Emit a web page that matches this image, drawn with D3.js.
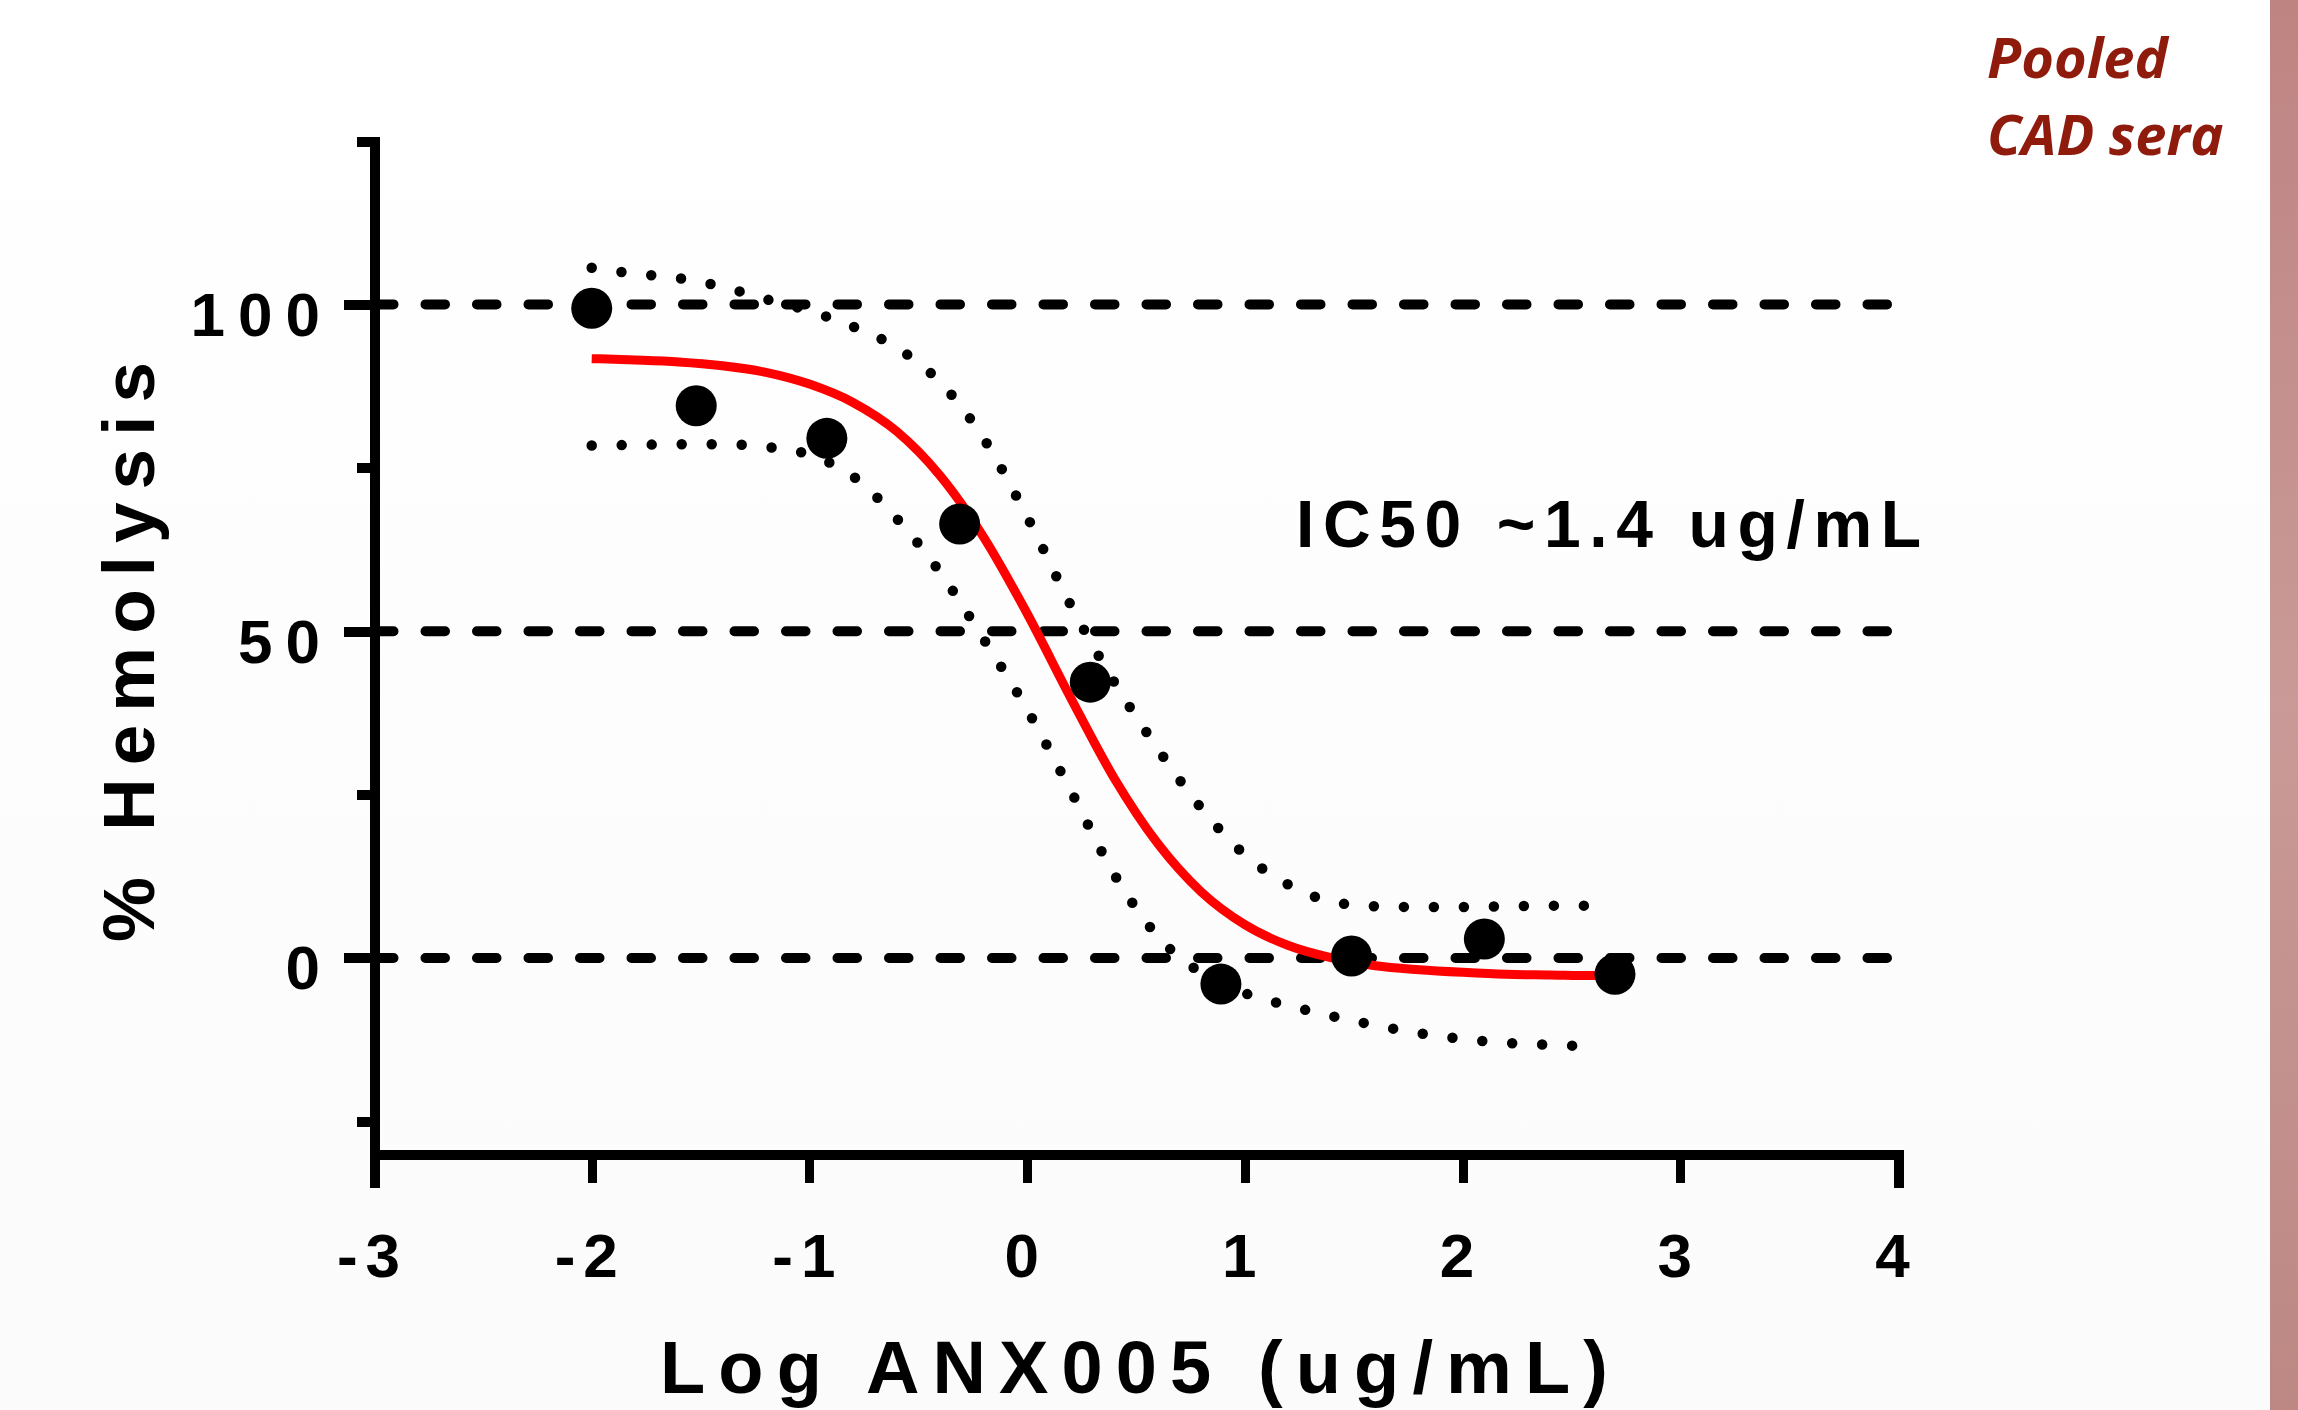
<!DOCTYPE html>
<html>
<head>
<meta charset="utf-8">
<script src="https://cdn.jsdelivr.net/npm/d3@7"></script>
<style>
	body { margin: 0; background: #ffffff; }
	svg { display: block; }
	text { font-family: "Liberation Sans", Arial, sans-serif; font-weight: bold; }
</style>
</head>
<body>
<script>

// measured points: log dose vs % hemolysis
var doseLog = [-2, -1.52, -0.92, -0.31, 0.29, 0.89, 1.49, 2.10, 2.70];
var hemolysis = [99.4, 84.5, 79.5, 66.4, 42.2, -4.0, 0.3, 2.9, -2.5];

// fitted curve
var curveX = [-2.0, -1.8, -1.6, -1.4, -1.2, -1.0, -0.8, -0.6, -0.4, -0.2, 0.0, 0.2, 0.4, 0.6, 0.8, 1.0, 1.2, 1.4, 1.6, 1.8, 2.0, 2.2, 2.4, 2.6, 2.7];
var curveY = [91.7, 91.5, 91.2, 90.6, 89.6, 87.8, 85.0, 80.6, 73.8, 64.4, 52.7, 39.8, 27.5, 17.5, 10.1, 5.1, 1.9, 0.0, -1.2, -1.8, -2.2, -2.5, -2.6, -2.7, -2.7];

// confidence band, upper and lower
var upperX = [-2.0, -1.8, -1.6, -1.4, -1.2, -1.0, -0.8, -0.6, -0.4, -0.2, 0.0, 0.2, 0.4, 0.6, 0.8, 1.0, 1.2, 1.4, 1.6, 1.8, 2.0, 2.2, 2.4, 2.62];
var upperY = [105.6, 104.7, 104.0, 102.7, 100.8, 99.0, 96.6, 93.4, 88.1, 79.5, 67.5, 54.0, 42.2, 32.0, 22.9, 15.8, 11.2, 8.6, 7.9, 7.8, 7.8, 7.9, 8.0, 8.0];
var lowerX = [-2.0, -1.8, -1.6, -1.4, -1.2, -1.0, -0.8, -0.6, -0.4, -0.2, 0.0, 0.2, 0.4, 0.6, 0.8, 1.0, 1.2, 1.4, 1.6, 1.8, 2.0, 2.2, 2.4, 2.58];
var lowerY = [78.4, 78.5, 78.6, 78.6, 78.2, 77.0, 73.7, 67.3, 59.0, 48.8, 38.0, 25.6, 12.8, 3.3, -2.3, -5.4, -7.3, -8.9, -10.3, -11.5, -12.4, -13.0, -13.3, -13.5];

var refLines = [0, 50, 100];
var xTicks = [-3, -2, -1, 0, 1, 2, 3, 4];
var yTicks = [-25, 0, 25, 50, 75, 100, 125];
var yLabels = [0, 50, 100];

var W = 2298, H = 1410;

var svg = d3.select("body").append("svg")
	.attr("width", W)
	.attr("height", H);

var defs = svg.append("defs");
var bg = defs.append("linearGradient").attr("id", "bg").attr("x1", 0).attr("y1", 0).attr("x2", 0).attr("y2", 1);
bg.append("stop").attr("offset", "0").attr("stop-color", "#ffffff");
bg.append("stop").attr("offset", "1").attr("stop-color", "#fbfbfb");
var bar = defs.append("linearGradient").attr("id", "bar").attr("x1", 0).attr("y1", 0).attr("x2", 0).attr("y2", 1);
bar.append("stop").attr("offset", "0").attr("stop-color", "#be8482");
bar.append("stop").attr("offset", "0.5").attr("stop-color", "#c99a97");
bar.append("stop").attr("offset", "1").attr("stop-color", "#bd8884");

svg.append("rect").attr("width", W).attr("height", H).style("fill", "url(#bg)");
svg.append("rect").attr("x", 2270).attr("y", 0).attr("width", 28).attr("height", H).style("fill", "url(#bar)");

var x = d3.scaleLinear().domain([-3, 4]).range([374, 1898]);
var y = d3.scaleLinear().domain([-30, 125]).range([1154, 141]);

// y axis
var yAxis = svg.append("g")
	.attr("transform", "translate(" + x(-3) + ",0)")
	.call(d3.axisLeft(y).tickValues(yTicks).tickSizeOuter(0).tickFormat(function(d)
	{
		return yLabels.indexOf(d) >= 0 ? String(d) : "";
	}));

yAxis.select(".domain")
	.attr("stroke", "#000")
	.attr("stroke-width", 10)
	.attr("stroke-linecap", "square");

yAxis.selectAll(".tick line")
	.attr("stroke", "#000")
	.attr("stroke-width", 10)
	.attr("x2", function(d)
	{
		return yLabels.indexOf(d) >= 0 ? -30 : -17;
	});

yAxis.selectAll(".tick text")
	.attr("x", -54 + 13)
	.attr("dy", 31)
	.style("font-size", "62px")
	.style("letter-spacing", "13px")
	.style("fill", "#000");

// x axis
var xAxis = svg.append("g")
	.attr("transform", "translate(0," + y(-30) + ")")
	.call(d3.axisBottom(x).tickValues(xTicks).tickSizeOuter(0).tickSize(29).tickFormat(function(d)
	{
		return String(d);
	}));

xAxis.select(".domain")
	.attr("stroke", "#000")
	.attr("stroke-width", 10)
	.attr("stroke-linecap", "square");

xAxis.selectAll(".tick line")
	.attr("stroke", "#000")
	.attr("stroke-width", 9);

xAxis.selectAll(".tick text")
	.attr("y", 123)
	.attr("dy", 0)
	.attr("dx", -2)
	.style("font-size", "62px")
	.style("letter-spacing", "8px")
	.style("fill", "#000");

svg.selectAll(".domain, .tick line").attr("shape-rendering", "crispEdges");

// dashed reference lines
svg.selectAll("line.ref")
	.data(refLines)
	.enter()
	.append("line")
	.attr("class", "ref")
	.attr("x1", x(-3))
	.attr("x2", x(4))
	.attr("y1", function(d) { return y(d); })
	.attr("y2", function(d) { return y(d); })
	.attr("stroke", "#000")
	.attr("stroke-width", 10)
	.attr("stroke-linecap", "round")
	.attr("stroke-dasharray", "19.5 32");

// confidence band
var line = d3.line()
	.x(function(d) { return x(d[0]); })
	.y(function(d) { return y(d[1]); })
	.curve(d3.curveMonotoneX);

[[upperX, upperY], [lowerX, lowerY]].forEach(function(b)
{
	svg.append("path")
		.datum(d3.zip(b[0], b[1]))
		.attr("d", line)
		.attr("fill", "none")
		.attr("stroke", "#000")
		.attr("stroke-width", 10.5)
		.attr("stroke-linecap", "round")
		.attr("stroke-dasharray", "0 30");
});

// fitted curve
svg.append("path")
	.datum(d3.zip(curveX, curveY))
	.attr("d", line)
	.attr("fill", "none")
	.attr("stroke", "#ff0000")
	.attr("stroke-width", 9);

// data points
svg.selectAll("circle.pt")
	.data(d3.zip(doseLog, hemolysis))
	.enter()
	.append("circle")
	.attr("class", "pt")
	.attr("cx", function(d) { return x(d[0]); })
	.attr("cy", function(d) { return y(d[1]); })
	.attr("r", 20.5)
	.style("fill", "#000");

// titles
svg.append("text")
	.attr("transform", "translate(154,652) rotate(-90)")
	.attr("text-anchor", "middle")
	.attr("textLength", 580)
	.attr("lengthAdjust", "spacing")
	.style("font-size", "73px")
	.text("% Hemolysis");

svg.append("text")
	.attr("x", 1134)
	.attr("y", 1393)
	.attr("text-anchor", "middle")
	.attr("textLength", 948)
	.attr("lengthAdjust", "spacing")
	.style("font-size", "74px")
	.text("Log ANX005 (ug/mL)");

svg.append("text")
	.attr("x", 1296)
	.attr("y", 547)
	.attr("textLength", 625)
	.attr("lengthAdjust", "spacing")
	.style("font-size", "66px")
	.text("IC50 ~1.4 ug/mL");

var note = ["Pooled", "CAD sera"];
svg.selectAll("text.note")
	.data(note)
	.enter()
	.append("text")
	.attr("class", "note")
	.attr("x", 1987)
	.attr("y", function(d, i) { return 78 + i * 77; })
	.style("font-family", "'Open Sans', 'Noto Sans', sans-serif")
	.style("font-style", "italic")
	.style("font-size", "56px")
	.style("fill", "#8e1b0c")
	.text(function(d) { return d; });

</script>
</body>
</html>
